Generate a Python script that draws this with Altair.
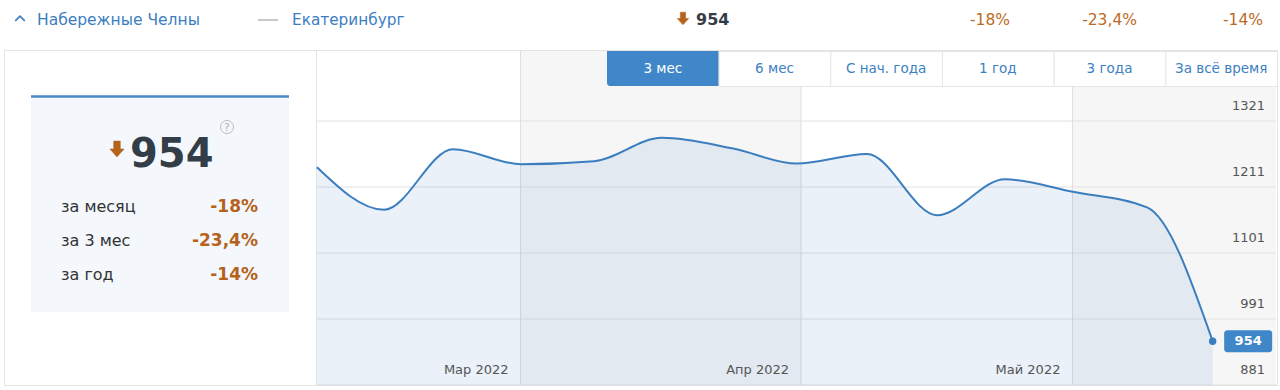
import altair as alt
import pandas as pd

# ---------------- data ----------------
dates = ["2022-02-06T12:00Z", "2022-02-13T22:00Z", "2022-02-21T13:00Z", "2022-03-01T01:00Z",
         "2022-03-09T03:00Z", "2022-03-16T15:00Z", "2022-03-24T12:00Z", "2022-03-31T13:00Z",
         "2022-04-08T07:00Z", "2022-04-16T01:00Z", "2022-04-23T13:00Z", "2022-05-01T01:00Z",
         "2022-05-09T06:00Z", "2022-05-16T12:00Z"]
values = [1244, 1173, 1274, 1249, 1254, 1293, 1275, 1250, 1266, 1164, 1224, 1203, 1177, 954]
y_ticks = [1321, 1211, 1101, 991, 881]
month_starts = ["2022-03-01T00:00Z", "2022-04-01T00:00Z", "2022-05-01T00:00Z"]
month_labels = ["Мар 2022", "Апр 2022", "Май 2022"]
band_starts = ["2022-03-01T00:00Z", "2022-05-01T00:00Z"]
band_ends = ["2022-04-01T00:00Z", "2022-05-23T12:00Z"]
domain_start = "2022-02-06T12:00Z"
domain_end = "2022-05-23T12:00Z"
period_buttons = ["3 мес", "6 мес", "С нач. года", "1 год", "3 года", "За всё время"]
active_button = "3 мес"
stat_labels = ["за месяц", "за 3 мес", "за год"]
stat_values = ["-18%", "-23,4%", "-14%"]
current_value = "954"
city = "Набережные Челны"
compare_city = "Екатеринбург"

# ---------------- styles ----------------
FONT = "DejaVu Sans"
BLUE = "#3b7ebf"
BTN_BLUE = "#3f87c8"
ORANGE = "#b5621c"
DARK = "#333d48"
GRID = "#e2e2e2"
ARROW = "M-0.42,-1L0.42,-1L0.42,0L0.9,0L0,1L-0.9,0L-0.42,0Z"

df = pd.DataFrame({"date": dates, "value": values})
last = df.iloc[[-1]]
ticks_df = pd.DataFrame({"tick": y_ticks, "x0": domain_start, "x1": domain_end})
months_df = pd.DataFrame({"start": month_starts, "label": month_labels})
bands_df = pd.DataFrame({"start": band_starts, "end": band_ends})
one = pd.DataFrame({"k": [0]})

x_scale = alt.Scale(type="utc",
                    domain=[alt.DateTime(year=2022, month=2, date=6, hours=12, utc=True),
                            alt.DateTime(year=2022, month=5, date=23, hours=12, utc=True)],
                    range=[317, 1276])
y_scale = alt.Scale(domain=[881, 1321], range=[385, 121], zero=False, nice=False)


def X(field):
    return alt.X(field, type="temporal", scale=x_scale, axis=None)


def Y(field):
    return alt.Y(field, type="quantitative", scale=y_scale, axis=None)


def box(x, x2, y, y2, **kw):
    return alt.Chart(one).mark_rect(**kw).encode(
        x=alt.value(x), x2=alt.value(x2), y=alt.value(y), y2=alt.value(y2))


def label(txt, x, y, **kw):
    kw.setdefault("font", FONT)
    kw.setdefault("baseline", "middle")
    return alt.Chart(one).mark_text(**kw).encode(
        x=alt.value(x), y=alt.value(y), text=alt.value(txt))


def hline(x, x2, y, **kw):
    return alt.Chart(one).mark_rule(**kw).encode(
        x=alt.value(x), x2=alt.value(x2), y=alt.value(y))


def vline(x, y, y2, **kw):
    return alt.Chart(one).mark_rule(**kw).encode(
        x=alt.value(x), y=alt.value(y), y2=alt.value(y2))


def symbol(shape, x, y, size, **kw):
    return alt.Chart(one).mark_point(shape=shape, size=size, opacity=1, **kw).encode(
        x=alt.value(x), y=alt.value(y))


layers = []

# card
layers.append(box(4.5, 1277.5, 50.5, 385.5, fill="white", stroke="#e3e3e3", strokeWidth=1))
layers.append(vline(316.5, 50.5, 385.5, color="#e3e3e3", strokeWidth=1))

# month bands
layers.append(alt.Chart(bands_df).mark_rect(color="#f6f6f6").encode(
    x=X("start"), x2="end:T", y=alt.value(51), y2=alt.value(385)))

# gridlines
layers.append(alt.Chart(ticks_df).mark_rule(color=GRID, strokeWidth=1).encode(
    x=X("x0"), x2="x1:T", y=Y("tick")))

# month boundaries
layers.append(alt.Chart(months_df).mark_rule(color="#dedede", strokeWidth=1).encode(
    x=X("start"), y=alt.value(51), y2=alt.value(385)))

# area + line + last point
layers.append(alt.Chart(df).mark_area(color="#3d7fc0", opacity=0.11, interpolate="monotone").encode(
    x=X("date"), y=Y("value"), y2=alt.datum(881)))
layers.append(alt.Chart(df).mark_line(color=BLUE, strokeWidth=2, interpolate="monotone").encode(
    x=X("date"), y=Y("value")))
layers.append(alt.Chart(last).mark_circle(color=BLUE, size=55, opacity=1).encode(
    x=X("date"), y=Y("value")))

# y labels
layers.append(alt.Chart(ticks_df).mark_text(align="right", baseline="middle", dy=-15, fontSize=13,
                                            color="#555", font=FONT).encode(
    x=alt.value(1265), y=Y("tick"), text=alt.Text("tick:Q", format="d")))

# month labels
layers.append(alt.Chart(months_df).mark_text(align="right", baseline="middle", dx=-12, fontSize=13,
                                             color="#555", font=FONT).encode(
    x=X("start"), y=alt.value(370), text="label:N"))

# end value label
layers.append(alt.Chart(last).mark_rect(color=BTN_BLUE, cornerRadius=3, xOffset=11.5, x2Offset=59.5,
                                        yOffset=-11, y2Offset=11).encode(
    x=X("date"), x2="date:T", y=Y("value"), y2="value:Q"))
layers.append(alt.Chart(last).mark_text(dx=35.5, align="center", baseline="middle", fontSize=13,
                                        fontWeight="bold", color="white", font=FONT).encode(
    x=X("date"), y=Y("value"), text="value:Q"))

# period buttons
bx0, bw = 607, (1277 - 607) / len(period_buttons)
for i, b in enumerate(period_buttons):
    active = b == active_button
    x0 = bx0 + i * bw
    if active:
        layers.append(box(x0, x0 + bw, 51, 86, fill=BTN_BLUE, cornerRadiusBottomLeft=3))
    else:
        layers.append(box(x0 + 0.5, x0 + bw + 0.5, 51.5, 86.5, fill="white", stroke="#e6e6e6",
                          strokeWidth=1))
    layers.append(label(b, x0 + bw / 2, 69, align="center", fontSize=13.5,
                        color="white" if active else "#3d80c2"))

# left summary panel
layers.append(box(31, 289, 96, 312, fill="#f4f8fc"))
layers.append(hline(31, 289, 96.5, color="#4a8ac6", strokeWidth=2.5))
layers.append(symbol(ARROW, 117, 149, 250, filled=True, fill=ORANGE, stroke=ORANGE, strokeWidth=0.5))
layers.append(label(current_value, 130, 167, baseline="alphabetic", align="left", fontSize=40,
                    fontWeight="bold", color=DARK))
layers.append(symbol("circle", 227, 127, 170, filled=False, stroke="#bdbdbd", strokeWidth=1))
layers.append(label("?", 227, 127.5, align="center", fontSize=11, color="#b0b0b0"))
for i, (s, v) in enumerate(zip(stat_labels, stat_values)):
    yy = 207 + i * 34
    layers.append(label(s, 61, yy, align="left", fontSize=16, color="#333"))
    layers.append(label(v, 258, yy, align="right", fontSize=17, fontWeight="bold", color=ORANGE))

# header row
layers.append(symbol("M-1,0.5L0,-0.5L1,0.5", 20, 18.5, 90, filled=False, stroke=BLUE, strokeWidth=1.7))
layers.append(label(city, 37, 20, align="left", fontSize=15.5, color=BLUE))
layers.append(hline(258, 278, 20, color="#c8c8c8", strokeWidth=2))
layers.append(label(compare_city, 292, 20, align="left", fontSize=15.3, color=BLUE))
layers.append(symbol(ARROW, 683, 18.5, 160, filled=True, fill=ORANGE, stroke=ORANGE, strokeWidth=0.5))
layers.append(label(current_value, 696, 20, align="left", fontSize=16, fontWeight="bold", color=DARK))
for v, xr in zip(stat_values, [1010, 1137, 1263]):
    layers.append(label(v, xr, 20, align="right", fontSize=15.5, color="#bb6a24"))

chart = alt.layer(*layers).properties(
    width=1280, height=390, padding=0, background="white",
    autosize=alt.AutoSizeParams(type="none"),
).configure_view(stroke=None)

chart.save("out.html", embed_options={"renderer": "svg", "actions": False})
